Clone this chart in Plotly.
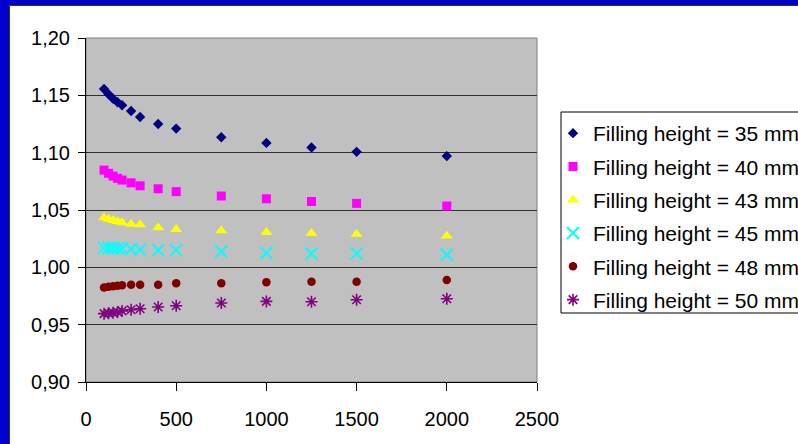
import plotly.graph_objects as go

# Throughput (x) and relative factor for each filling height
x_vals = [100, 125, 150, 175, 200, 250, 300, 400, 500, 750, 1000, 1250, 1500, 2000]

h35 = [1.1555, 1.1510, 1.1470, 1.1440, 1.1413, 1.1363, 1.1311, 1.1250, 1.1210, 1.1135, 1.1085, 1.1045, 1.1007, 1.0970]
h40 = [1.0848, 1.0820, 1.0796, 1.0776, 1.0761, 1.0737, 1.0711, 1.0685, 1.0660, 1.0622, 1.0598, 1.0574, 1.0558, 1.0535]
h43 = [1.0433, 1.0420, 1.0410, 1.0400, 1.0390, 1.0376, 1.0372, 1.0346, 1.0332, 1.0320, 1.0306, 1.0297, 1.0289, 1.0274]
h45 = [1.0170, 1.0170, 1.0168, 1.0165, 1.0163, 1.0160, 1.0155, 1.0150, 1.0150, 1.0138, 1.0125, 1.0120, 1.0120, 1.0109]
h48 = [0.9824, 0.9830, 0.9835, 0.9840, 0.9843, 0.9848, 0.9848, 0.9848, 0.9862, 0.9862, 0.9871, 0.9874, 0.9874, 0.9889]
h50 = [0.9596, 0.9600, 0.9605, 0.9610, 0.9620, 0.9630, 0.9639, 0.9654, 0.9665, 0.9689, 0.9703, 0.9700, 0.9717, 0.9726]

series_names = [
    "Filling height = 35 mm",
    "Filling height = 40 mm",
    "Filling height = 43 mm",
    "Filling height = 45 mm",
    "Filling height = 48 mm",
    "Filling height = 50 mm",
]

y_ticks = [0.90, 0.95, 1.00, 1.05, 1.10, 1.15, 1.20]
x_ticks = [0, 500, 1000, 1500, 2000, 2500]

styles = [
    dict(symbol="diamond", size=8, color="#000080"),
    dict(symbol="square", size=9, color="#FF00FF"),
    dict(symbol="triangle-up", size=10.5, color="#FFFF00"),
    dict(symbol="x-thin-open", size=12, color="#00FFFF", line=dict(width=2, color="#00FFFF")),
    dict(symbol="circle", size=8.5, color="#800000"),
    dict(symbol="asterisk-open", size=10, color="#800080", line=dict(width=1.6, color="#800080")),
]

fig = go.Figure()
for i, (name, ys, st) in enumerate(zip(series_names, [h35, h40, h43, h45, h48, h50], styles)):
    marker = dict(st)
    if "line" not in marker:
        marker["line"] = dict(width=0)
    fig.add_trace(go.Scatter(
        x=x_vals, y=ys, mode="markers", name=name,
        legendgroup=f"g{i}", marker=marker, cliponaxis=False,
    ))

# page geometry in pixels
W, H = 798, 444
ML, MR, MT, MB = 86, 261, 38, 62
PW, PH = W - ML - MR, H - MT - MB


def px(xp):
    return (xp - ML) / PW


def py(yp):
    return (H - MB - yp) / PH


font = dict(family="Liberation Sans, Arial, sans-serif", size=20, color="black")

shapes = [
    # plot-area frame
    dict(type="rect", xref="paper", yref="paper", x0=0, x1=1, y0=0, y1=1,
         line=dict(color="#808080", width=1), layer="below"),
    # legend frame
    dict(type="rect", xref="paper", yref="paper", x0=px(561), x1=px(830), y0=py(313), y1=py(112),
         line=dict(color="black", width=1), fillcolor="white", layer="below"),
    # slide border, top and left
    dict(type="rect", xref="paper", yref="paper", x0=px(-10), x1=px(820), y0=py(5), y1=py(-10),
         line=dict(width=0), fillcolor="#0000CC"),
    dict(type="rect", xref="paper", yref="paper", x0=px(-10), x1=px(9), y0=py(460), y1=py(-10),
         line=dict(width=0), fillcolor="#0000CC"),
    dict(type="line", xref="paper", yref="paper", x0=px(9.5), x1=px(820), y0=py(5.5), y1=py(5.5),
         line=dict(color="#333333", width=1)),
    dict(type="line", xref="paper", yref="paper", x0=px(9.5), x1=px(9.5), y0=py(5.5), y1=py(460),
         line=dict(color="#333333", width=1)),
]

fig.update_layout(
    width=W, height=H,
    margin=dict(l=ML, r=MR, t=MT, b=MB, pad=0, autoexpand=False),
    paper_bgcolor="white",
    plot_bgcolor="#C0C0C0",
    separators=", ",
    font=font,
    showlegend=True,
    legend=dict(
        x=px(553), y=py(113), xanchor="left", yanchor="top",
        bgcolor="rgba(0,0,0,0)", borderwidth=0,
        font=dict(family="Liberation Sans, Arial, sans-serif", size=21, color="black"),
        traceorder="grouped", tracegroupgap=3,
    ),
    shapes=shapes,
    xaxis=dict(
        range=[0, 2500], tickvals=x_ticks, ticktext=[str(v) for v in x_ticks],
        showgrid=False, zeroline=False,
        showline=True, linecolor="black", linewidth=1,
        ticks="outside", ticklen=8, tickcolor="black", tickwidth=1,
        ticklabelstandoff=11,
    ),
    yaxis=dict(
        range=[0.90, 1.20], tickvals=y_ticks,
        ticktext=[f"{v:.2f}".replace(".", ",") for v in y_ticks],
        showgrid=True, gridcolor="#303030", gridwidth=1, zeroline=False,
        showline=True, linecolor="black", linewidth=1,
        ticks="outside", ticklen=7, tickcolor="black", tickwidth=1,
        ticklabelstandoff=4,
    ),
)

fig.write_html("out.html")
